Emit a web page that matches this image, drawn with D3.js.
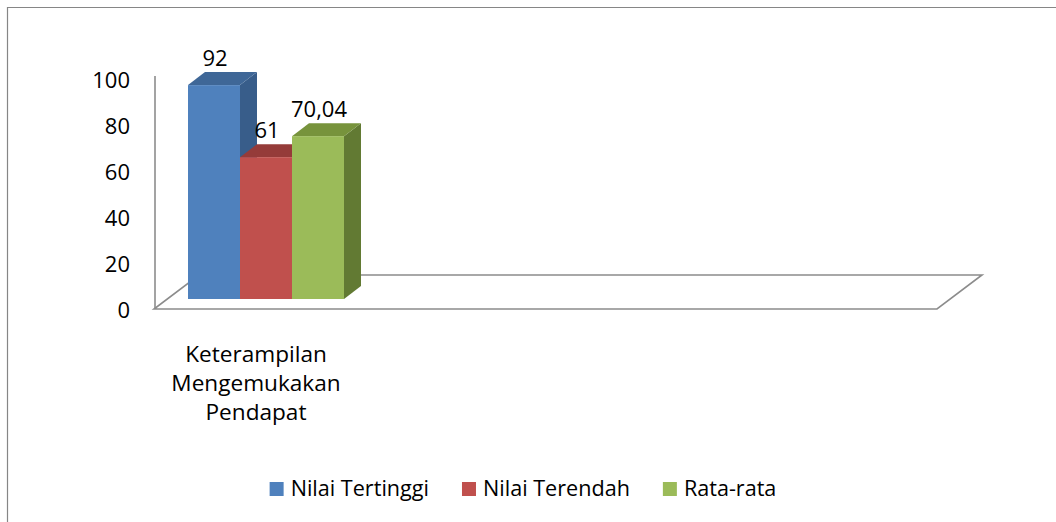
<!DOCTYPE html>
<html>
<head>
<meta charset="utf-8">
<script src="https://cdn.jsdelivr.net/npm/d3@7"></script>
<style>
  html, body { margin: 0; padding: 0; background: #fff; }
  svg { display: block; font-family: "Open Sans", sans-serif; }
</style>
</head>
<body>
<div id="chart"></div>
<script>
// data
const categories = ['Keterampilan Mengemukakan Pendapat'];
const categoryLines = [['Keterampilan', 'Mengemukakan', 'Pendapat']];
const seriesNames = ['Nilai Tertinggi', 'Nilai Terendah', 'Rata-rata'];
const seriesValues = [[92], [61], [70.04]];
const valueLabels = [['92'], ['61'], ['70,04']];
const yTicks = [0, 20, 40, 60, 80, 100];

const colors = {
  front: ['#4F81BD', '#C0504D', '#9BBB59'],
  top:   ['#3F6797', '#953B39', '#77933C'],
  side:  ['#385D8A', '#8A3836', '#627A33']
};

const W = 1056, H = 522;
const DX = 17, DY = -13;           // bar depth offset
const FX = 45, FY = -34;           // floor depth offset

const svg = d3.select('#chart').append('svg')
  .attr('width', W).attr('height', H);

// outer border (only left + top visible in the reference)
svg.append('path')
  .attr('d', `M7.5,${H} V7.5 H${W}`)
  .attr('fill', 'none').attr('stroke', '#868686').attr('stroke-width', 1.2);

// scales
const yBar  = d3.scaleLinear().domain([0, 100]).range([299, 66.5]);
const yTick = d3.scaleLinear().domain([0, 100]).range([310, 80]);
const xSer  = d3.scaleBand().domain(seriesNames).range([188, 344]);

// floor outline
const fl = 154, fr = 937, fy = 309;
svg.append('path')
  .attr('d', `M${fl},${fy} H${fr} L${fr + FX},${fy + FY} H${fl + FX} Z`)
  .attr('fill', 'none').attr('stroke', '#8C8C8C').attr('stroke-width', 1.6);

// vertical axis line
svg.append('line')
  .attr('x1', 155).attr('x2', 155)
  .attr('y1', yTick(0) - 1).attr('y2', 76)
  .attr('stroke', '#8C8C8C').attr('stroke-width', 1.6);

// tick labels
svg.append('g').selectAll('text')
  .data(yTicks).join('text')
  .attr('x', 130).attr('y', d => yTick(d))
  .attr('dy', '0.36em')
  .attr('text-anchor', 'end')
  .attr('font-size', 22).attr('fill', '#000')
  .text(d => d);

// bars
seriesNames.forEach((name, s) => {
  categories.forEach((cat, c) => {
    const v = seriesValues[s][c];
    const x0 = xSer(name), x1 = x0 + xSer.bandwidth();
    const yt = yBar(v), yb = yBar(0);
    const g = svg.append('g');
    // side face
    g.append('path')
      .attr('d', `M${x1},${yb} L${x1 + DX},${yb + DY} L${x1 + DX},${yt + DY} L${x1},${yt} Z`)
      .attr('fill', colors.side[s]);
    // top face
    g.append('path')
      .attr('d', `M${x0},${yt} L${x0 + DX},${yt + DY} L${x1 + DX},${yt + DY} L${x1},${yt} Z`)
      .attr('fill', colors.top[s]);
    // front face
    g.append('rect')
      .attr('x', x0).attr('y', yt)
      .attr('width', xSer.bandwidth()).attr('height', yb - yt)
      .attr('fill', colors.front[s]);
    // value label
    g.append('text')
      .attr('x', (x0 + x1) / 2 + 1)
      .attr('y', yt + DY - 6)
      .attr('text-anchor', 'middle')
      .attr('font-size', 22).attr('fill', '#000')
      .text(valueLabels[s][c]);
  });
});

// category label
categories.forEach((cat, c) => {
  const t = svg.append('text')
    .attr('x', 256).attr('y', 362)
    .attr('text-anchor', 'middle')
    .attr('font-size', 22.6).attr('fill', '#000');
  categoryLines[c].forEach((line, i) => {
    t.append('tspan').attr('x', 256).attr('dy', i === 0 ? 0 : 29).text(line);
  });
});

// legend
const legend = svg.append('g');
const items = seriesNames.map((name, s) => {
  const g = legend.append('g');
  g.append('rect').attr('x', 0).attr('y', -14).attr('width', 14).attr('height', 14)
    .attr('fill', colors.front[s]);
  const t = g.append('text').attr('x', 21).attr('y', 0)
    .attr('font-size', 21.6).attr('fill', '#000').text(name);
  return { g, w: 21 + t.node().getComputedTextLength() };
});
const gap = 33;
const total = d3.sum(items, d => d.w) + gap * (items.length - 1);
let lx = 523 - total / 2;
items.forEach(d => {
  d.g.attr('transform', `translate(${lx},496)`);
  lx += d.w + gap;
});
</script>
</body>
</html>
